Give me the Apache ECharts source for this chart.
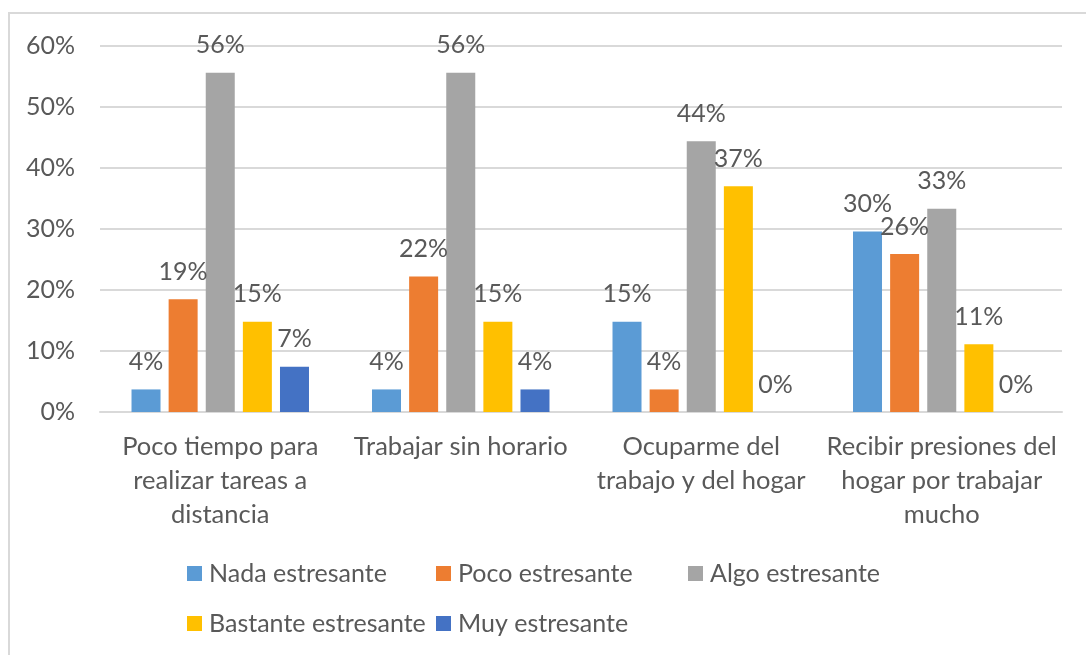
<!DOCTYPE html>
<html>
<head>
<meta charset="utf-8">
<script src="https://cdn.jsdelivr.net/npm/echarts@6/dist/echarts.min.js"></script>
<style>
  html, body { margin: 0; padding: 0; background: #fff; overflow: hidden; }
  #frame { position: absolute; left: 8px; top: 12px; width: 1100px; height: 700px; border: 2px solid #d9d9d9; }
  #chart { position: absolute; left: 0; top: 0; width: 1086px; height: 655px; }
</style>
</head>
<body>
<div id="frame"></div>
<div id="chart"></div>
<script>
  // categorias (con salto de linea como en el original)
  var categories = [
    'Poco tiempo para\nrealizar tareas a\ndistancia',
    'Trabajar sin horario',
    'Ocuparme del\ntrabajo y del hogar',
    'Recibir presiones del\nhogar por trabajar\nmucho'
  ];
  var seriesNames = ['Nada estresante', 'Poco estresante', 'Algo estresante', 'Bastante estresante', 'Muy estresante'];
  // valores en %
  var nada = [3.7, 3.7, 14.8, 29.6];
  var poco = [18.5, 22.2, 3.7, 25.9];
  var algo = [55.6, 55.6, 44.4, 33.3];
  var bastante = [14.8, 14.8, 37.0, 11.1];
  var muy = [7.4, 3.7, 0, 0];
  var yTicks = [0, 10, 20, 30, 40, 50, 60];

  var colors = ['#5b9bd5', '#ed7d31', '#a5a5a5', '#ffc000', '#4472c4'];
  var font = 'Lato, "Liberation Sans", sans-serif';
  var textColor = '#595959';

  var myChart = echarts.init(document.getElementById('chart'));

  var seriesData = [nada, poco, algo, bastante, muy];
  var series = seriesNames.map(function (name, i) {
    return {
      name: name,
      type: 'bar',
      data: seriesData[i],
      barWidth: 29,
      barGap: '28%',
      itemStyle: { color: colors[i] },
      label: {
        show: true,
        position: 'top',
        distance: 15,
        color: textColor,
        fontFamily: font,
        fontSize: 25,
        formatter: function (p) { return Math.round(p.value) + '%'; }
      }
    };
  });

  // leyenda en columnas (como Excel)
  var legendPos = [[187, 561], [436, 561], [688, 561], [187, 611], [436, 611]];
  var legends = seriesNames.map(function (name, i) {
    return {
      data: [name],
      left: legendPos[i][0],
      top: legendPos[i][1],
      padding: 0,
      icon: 'rect',
      itemWidth: 15,
      itemHeight: 15,
      itemGap: 0,
      textStyle: { color: textColor, fontFamily: font, fontSize: 25, padding: [0, 0, 0, 2] },
      selectedMode: false
    };
  });

  var option = {
    backgroundColor: 'transparent',
    animation: false,
    color: colors,
    legend: legends,
    grid: {
      left: 100,
      right: 24,
      top: 46,
      height: 366,
      containLabel: false
    },
    xAxis: {
      type: 'category',
      data: categories,
      axisTick: { show: false },
      axisLine: { show: true, lineStyle: { color: '#d9d9d9', width: 2 } },
      axisLabel: {
        color: textColor,
        fontFamily: font,
        fontSize: 25.5,
        lineHeight: 34,
        margin: 18,
        interval: 0
      }
    },
    yAxis: {
      type: 'value',
      min: yTicks[0],
      max: yTicks[yTicks.length - 1],
      interval: 10,
      axisLine: { show: false },
      axisTick: { show: false },
      splitLine: { show: true, lineStyle: { color: '#d9d9d9', width: 2 } },
      axisLabel: {
        color: textColor,
        fontFamily: font,
        fontSize: 25,
        margin: 25,
        formatter: '{value}%'
      }
    },
    series: series
  };

  myChart.setOption(option);
</script>
</body>
</html>
